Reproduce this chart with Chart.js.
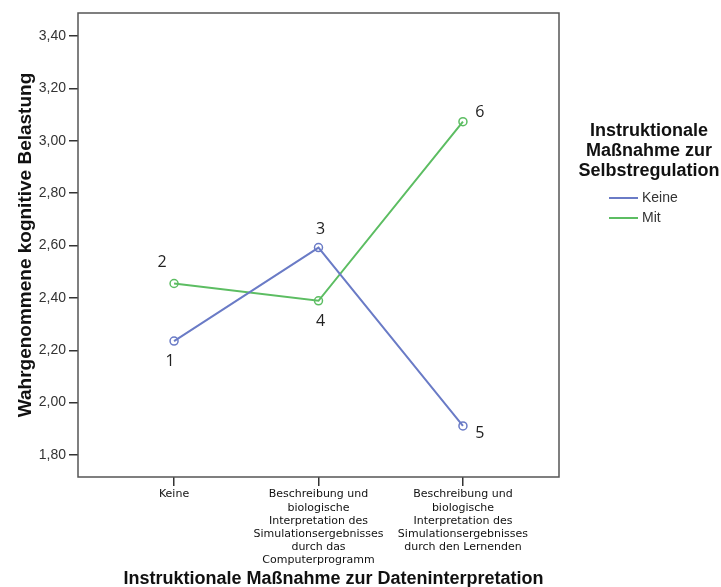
<!DOCTYPE html>
<html>
<head>
<meta charset="utf-8">
<script src="https://cdn.jsdelivr.net/npm/chart.js@4.4.1/dist/chart.umd.min.js"></script>
<style>
  html, body { margin: 0; padding: 0; background: #fff; }
  #wrap { width: 721px; height: 587px; position: relative; }
</style>
</head>
<body>
<div id="wrap"><canvas id="chart"></canvas></div>
<script>
// ─── DATA ─────────────────────────────────────────────────────────────────────
const categories = [
    ['Keine'],
    ['Beschreibung und', 'biologische', 'Interpretation des', 'Simulationsergebnisses', 'durch das', 'Computerprogramm'],
    ['Beschreibung und', 'biologische', 'Interpretation des', 'Simulationsergebnisses', 'durch den Lernenden'],
];
const keineValues = [2.235, 2.592, 1.911];
const mitValues   = [2.455, 2.389, 3.073];
const keineLabels = ['1', '3', '5'];
const mitLabels   = ['2', '4', '6'];
const yTickValues = [1.8, 2.0, 2.2, 2.4, 2.6, 2.8, 3.0, 3.2, 3.4];

const xTitle      = 'Instruktionale Maßnahme zur Dateninterpretation';
const yTitle      = 'Wahrgenommene kognitive Belastung';
const legendTitle = ['Instruktionale', 'Maßnahme zur', 'Selbstregulation'];
const seriesNames = ['Keine', 'Mit'];

const BLUE  = '#6a7bc6';
const GREEN = '#5cbd62';

// ─── PLUGINS ──────────────────────────────────────────────────────────────────
const framePlugin = {
    id: 'frame',
    afterDraw(chart) {
        const { ctx, chartArea: a } = chart;
        ctx.save();
        ctx.strokeStyle = '#555';
        ctx.lineWidth = 1.5;
        ctx.strokeRect(a.left, a.top, a.right - a.left, a.bottom - a.top);

        // x axis title sits a bit right of the plot centre in the original
        ctx.fillStyle = '#111';
        ctx.font = 'bold 18px "Liberation Sans", Arial, sans-serif';
        ctx.textAlign = 'center';
        ctx.textBaseline = 'alphabetic';
        ctx.fillText(xTitle, (a.left + a.right) / 2 + 15, 584);
        ctx.restore();
    },
};

// offsets of the number labels from their points
const labelOffsets = {
    0: [[-4, 20], [2, -18], [17, 7]],
    1: [[-12, -21], [2, 21], [17, -9]],
};

const pointLabelPlugin = {
    id: 'pointLabels',
    afterDatasetsDraw(chart) {
        const { ctx } = chart;
        ctx.save();
        ctx.font = '16px "Open Sans", sans-serif';
        ctx.fillStyle = '#222';
        ctx.textAlign = 'center';
        ctx.textBaseline = 'middle';
        chart.data.datasets.forEach((ds, di) => {
            const meta = chart.getDatasetMeta(di);
            meta.data.forEach((pt, i) => {
                const [dx, dy] = labelOffsets[di][i];
                ctx.fillText(ds.numLabels[i], pt.x + dx, pt.y + dy);
            });
        });
        ctx.restore();
    },
};

const legendPlugin = {
    id: 'sideLegend',
    afterDraw(chart) {
        const { ctx } = chart;
        ctx.save();
        ctx.fillStyle = '#111';
        ctx.font = 'bold 18px "Liberation Sans", Arial, sans-serif';
        ctx.textAlign = 'center';
        ctx.textBaseline = 'middle';
        legendTitle.forEach((t, i) => ctx.fillText(t, 649, 131 + i * 20));

        ctx.font = '14px "Liberation Sans", Arial, sans-serif';
        ctx.textAlign = 'left';
        chart.data.datasets.forEach((ds, i) => {
            const y = 198 + i * 20;
            ctx.strokeStyle = ds.borderColor;
            ctx.lineWidth = 2;
            ctx.beginPath();
            ctx.moveTo(609, y);
            ctx.lineTo(638, y);
            ctx.stroke();
            ctx.fillStyle = '#333';
            ctx.fillText(seriesNames[i], 642, y);
        });
        ctx.restore();
    },
};

// ─── CHART ────────────────────────────────────────────────────────────────────
const toPoints = (vals) => vals.map((v, i) => ({ x: i, y: v }));

new Chart(document.getElementById('chart'), {
    type: 'line',
    data: {
        datasets: [
            {
                label: seriesNames[0],
                data: toPoints(keineValues),
                numLabels: keineLabels,
                borderColor: BLUE,
                backgroundColor: 'rgba(255,255,255,0)',
                borderWidth: 2,
                pointRadius: 4,
                pointBorderWidth: 1.5,
                pointBackgroundColor: 'rgba(255,255,255,0)',
                tension: 0,
            },
            {
                label: seriesNames[1],
                data: toPoints(mitValues),
                numLabels: mitLabels,
                borderColor: GREEN,
                backgroundColor: 'rgba(255,255,255,0)',
                borderWidth: 2,
                pointRadius: 4,
                pointBorderWidth: 1.5,
                pointBackgroundColor: 'rgba(255,255,255,0)',
                tension: 0,
            },
        ],
    },
    options: {
        responsive: true,
        maintainAspectRatio: false,
        animation: false,
        layout: { padding: { top: 13, right: 162, left: 0, bottom: 0 } },
        plugins: {
            legend: { display: false },
            tooltip: { enabled: false },
        },
        scales: {
            x: {
                type: 'linear',
                min: -0.665,
                max: 2.665,
                afterBuildTicks: (s) => { s.ticks = categories.map((_, i) => ({ value: i })); },
                afterFit: (s) => { s.height = 110; },
                grid: { drawOnChartArea: false, drawTicks: true, tickLength: 9, color: '#333', lineWidth: 1.5 },
                border: { display: false },
                ticks: {
                    color: '#111',
                    font: { family: '"DejaVu Sans", sans-serif', size: 11, lineHeight: 1.2 },
                    padding: 2,
                    maxRotation: 0,
                    autoSkip: false,
                    callback: (v) => categories[v],
                },
            },
            y: {
                min: 1.716,
                max: 3.488,
                afterBuildTicks: (s) => { s.ticks = yTickValues.map((v) => ({ value: v })); },
                afterFit: (s) => { s.width = 78; },
                grid: { drawOnChartArea: false, drawTicks: true, tickLength: 9, color: '#333', lineWidth: 1.5 },
                border: { display: false },
                ticks: {
                    color: '#333',
                    font: { family: '"Liberation Sans", Arial, sans-serif', size: 14 },
                    padding: 3,
                    callback: (v) => v.toFixed(2).replace('.', ','),
                },
                title: {
                    display: true,
                    text: yTitle,
                    color: '#111',
                    font: { family: '"Liberation Sans", Arial, sans-serif', size: 19, weight: 'bold' },
                    padding: { top: 14, bottom: 0 },
                },
            },
        },
    },
    plugins: [framePlugin, pointLabelPlugin, legendPlugin],
});
</script>
</body>
</html>
